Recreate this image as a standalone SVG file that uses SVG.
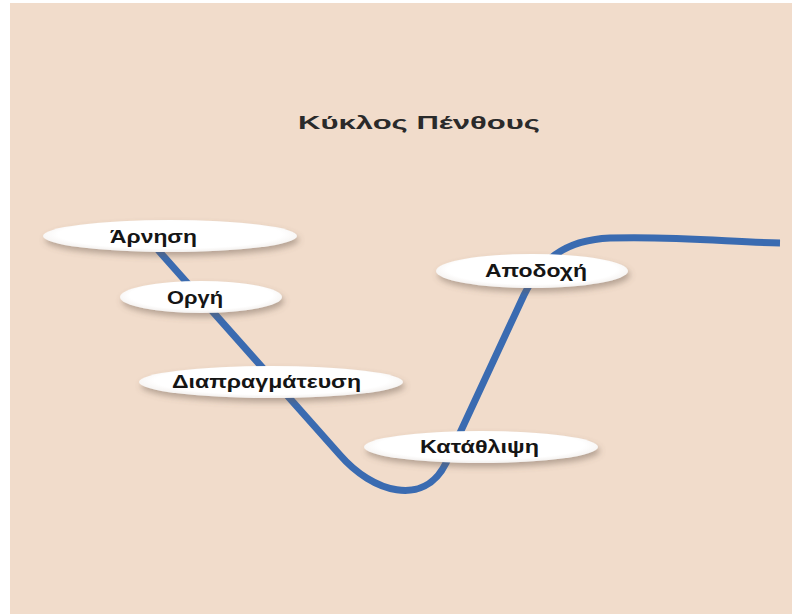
<svg xmlns="http://www.w3.org/2000/svg" width="792" height="614" viewBox="0 0 792 614">
  <defs>
    <filter id="sh" x="-20%" y="-60%" width="140%" height="220%">
      <feDropShadow dx="2" dy="4" stdDeviation="3" flood-color="#6b5a4e" flood-opacity="0.45"/>
    </filter>
    <radialGradient id="eg" cx="50%" cy="45%" r="55%">
      <stop offset="0.8" stop-color="#ffffff"/>
      <stop offset="1" stop-color="#f3f0ee"/>
    </radialGradient>
  </defs>
  <style>
    .node ellipse { fill: url(#eg); filter: url(#sh); }
    .node text { font-family: "Liberation Sans", Arial, sans-serif; font-size: 18px; font-weight: bold; fill: #151515; text-anchor: start; }
    .title { font-family: "Liberation Sans", Arial, sans-serif; font-size: 18px; font-weight: bold; fill: #2a2a2a; }
    .curve { fill: none; stroke: #3A6BB1; stroke-width: 7; stroke-linecap: butt; stroke-linejoin: round; }
  </style>
  <rect x="0" y="0" width="792" height="614" fill="#ffffff"/>
  <rect x="10" y="3" width="782" height="611" fill="#F1DCCB"/>
  <text class="title" x="298" y="129" textLength="242" lengthAdjust="spacingAndGlyphs">Κύκλος Πένθους</text>
  <g id="connectors">
    <path class="curve" d="M158,250 L340,455 C372,492 424,508 446,463 L524,295 C540,262 562,240 610,238 C680,236 730,242 780,243"/>
  </g>
  <g id="node-arnisi" class="node">
    <ellipse cx="170" cy="236" rx="127" ry="16"/>
    <text x="110" y="243" textLength="87" lengthAdjust="spacingAndGlyphs">Άρνηση</text>
  </g>
  <g id="node-orgi" class="node">
    <ellipse cx="201" cy="297" rx="81" ry="16"/>
    <text x="167" y="304" textLength="56" lengthAdjust="spacingAndGlyphs">Οργή</text>
  </g>
  <g id="node-diapragmatefsi" class="node">
    <ellipse cx="271" cy="382" rx="132" ry="16"/>
    <text x="172" y="388" textLength="189" lengthAdjust="spacingAndGlyphs">Διαπραγμάτευση</text>
  </g>
  <g id="node-katathlipsi" class="node">
    <ellipse cx="481" cy="447" rx="117" ry="16"/>
    <text x="420" y="453" textLength="119" lengthAdjust="spacingAndGlyphs">Κατάθλιψη</text>
  </g>
  <g id="node-apodochi" class="node">
    <ellipse cx="532" cy="271" rx="96" ry="17"/>
    <text x="485" y="277" textLength="102" lengthAdjust="spacingAndGlyphs">Αποδοχή</text>
  </g>
</svg>
